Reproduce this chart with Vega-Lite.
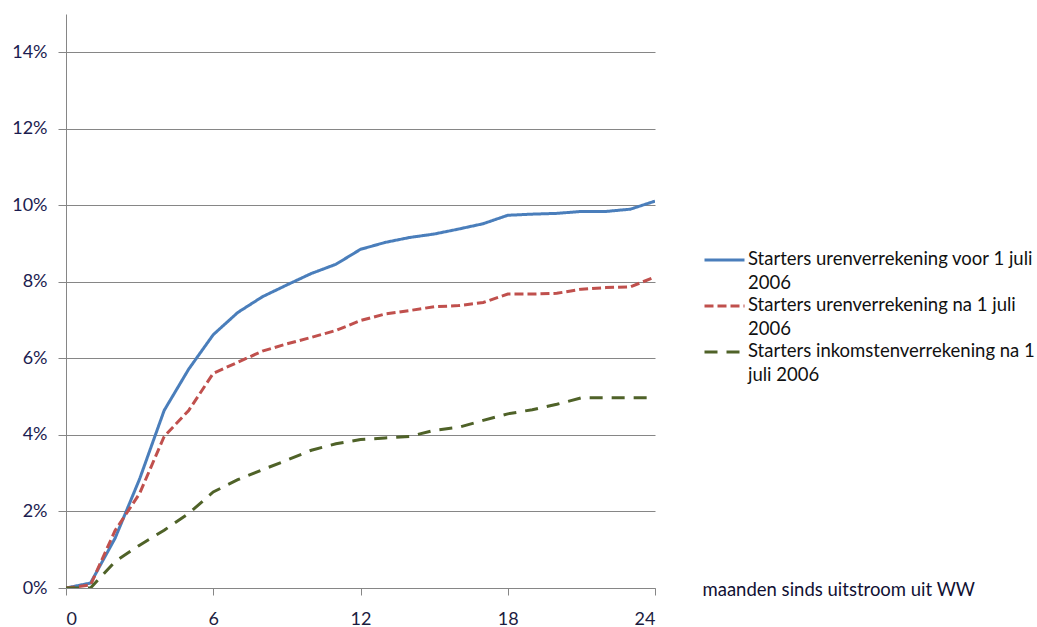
{
  "$schema": "https://vega.github.io/schema/vega-lite/v6.json",
  "width": 589,
  "height": 574,
  "autosize": "none",
  "padding": {"left": 66, "top": 14, "right": 382, "bottom": 39},
  "background": "white",
  "config": {
    "view": {"stroke": null},
    "font": "Lato"
  },
  "data": {
    "values": [
      {"month": 0, "s": "A", "v": 0.0},
      {"month": 1, "s": "A", "v": 0.13},
      {"month": 2, "s": "A", "v": 1.3},
      {"month": 3, "s": "A", "v": 2.85},
      {"month": 4, "s": "A", "v": 4.64},
      {"month": 5, "s": "A", "v": 5.72},
      {"month": 6, "s": "A", "v": 6.62},
      {"month": 7, "s": "A", "v": 7.2},
      {"month": 8, "s": "A", "v": 7.61},
      {"month": 9, "s": "A", "v": 7.92},
      {"month": 10, "s": "A", "v": 8.22},
      {"month": 11, "s": "A", "v": 8.46},
      {"month": 12, "s": "A", "v": 8.85},
      {"month": 13, "s": "A", "v": 9.03},
      {"month": 14, "s": "A", "v": 9.16},
      {"month": 15, "s": "A", "v": 9.25},
      {"month": 16, "s": "A", "v": 9.38},
      {"month": 17, "s": "A", "v": 9.52},
      {"month": 18, "s": "A", "v": 9.74},
      {"month": 19, "s": "A", "v": 9.77},
      {"month": 20, "s": "A", "v": 9.79},
      {"month": 21, "s": "A", "v": 9.84},
      {"month": 22, "s": "A", "v": 9.84},
      {"month": 23, "s": "A", "v": 9.9},
      {"month": 24, "s": "A", "v": 10.11},
      {"month": 0, "s": "B", "v": 0.0},
      {"month": 1, "s": "B", "v": 0.08},
      {"month": 2, "s": "B", "v": 1.5},
      {"month": 3, "s": "B", "v": 2.47},
      {"month": 4, "s": "B", "v": 3.96},
      {"month": 5, "s": "B", "v": 4.64},
      {"month": 6, "s": "B", "v": 5.61},
      {"month": 7, "s": "B", "v": 5.9},
      {"month": 8, "s": "B", "v": 6.19},
      {"month": 9, "s": "B", "v": 6.38},
      {"month": 10, "s": "B", "v": 6.55},
      {"month": 11, "s": "B", "v": 6.73},
      {"month": 12, "s": "B", "v": 6.99},
      {"month": 13, "s": "B", "v": 7.16},
      {"month": 14, "s": "B", "v": 7.25},
      {"month": 15, "s": "B", "v": 7.35},
      {"month": 16, "s": "B", "v": 7.38},
      {"month": 17, "s": "B", "v": 7.46},
      {"month": 18, "s": "B", "v": 7.68},
      {"month": 19, "s": "B", "v": 7.68},
      {"month": 20, "s": "B", "v": 7.7},
      {"month": 21, "s": "B", "v": 7.81},
      {"month": 22, "s": "B", "v": 7.85},
      {"month": 23, "s": "B", "v": 7.87},
      {"month": 24, "s": "B", "v": 8.13},
      {"month": 0, "s": "C", "v": 0.0},
      {"month": 1, "s": "C", "v": 0.0},
      {"month": 2, "s": "C", "v": 0.69},
      {"month": 3, "s": "C", "v": 1.12},
      {"month": 4, "s": "C", "v": 1.51},
      {"month": 5, "s": "C", "v": 1.95},
      {"month": 6, "s": "C", "v": 2.51},
      {"month": 7, "s": "C", "v": 2.83},
      {"month": 8, "s": "C", "v": 3.09},
      {"month": 9, "s": "C", "v": 3.34},
      {"month": 10, "s": "C", "v": 3.6},
      {"month": 11, "s": "C", "v": 3.77},
      {"month": 12, "s": "C", "v": 3.88},
      {"month": 13, "s": "C", "v": 3.92},
      {"month": 14, "s": "C", "v": 3.96},
      {"month": 15, "s": "C", "v": 4.12},
      {"month": 16, "s": "C", "v": 4.2},
      {"month": 17, "s": "C", "v": 4.38},
      {"month": 18, "s": "C", "v": 4.55},
      {"month": 19, "s": "C", "v": 4.66},
      {"month": 20, "s": "C", "v": 4.8},
      {"month": 21, "s": "C", "v": 4.97},
      {"month": 22, "s": "C", "v": 4.97},
      {"month": 23, "s": "C", "v": 4.97},
      {"month": 24, "s": "C", "v": 4.97}
    ]
  },
  "transform": [
    {"calculate": "datum.v / 100", "as": "pct"},
    {"calculate": "datum.s == 'A' ? 'Starters urenverrekening voor 1 juli 2006' : datum.s == 'B' ? 'Starters urenverrekening na 1 juli 2006' : 'Starters inkomstenverrekening na 1 juli 2006'", "as": "series"}
  ],
  "mark": {"type": "line", "strokeWidth": 3, "clip": true},
  "encoding": {
    "x": {
      "field": "month",
      "type": "quantitative",
      "scale": {"domain": [0, 24], "nice": false, "zero": true},
      "axis": {
        "values": [0, 6, 12, 18, 24],
        "grid": false,
        "domainColor": "#868686",
        "tickColor": "#868686",
        "tickSize": 7,
        "labelFontSize": 18,
        "labelColor": "#1c1c40",
        "labelPadding": 15,
        "labelFont": "Lato",
        "title": "maanden sinds uitstroom uit WW",
        "titleFont": "Lato",
        "titleFontSize": 18.5,
        "titleFontWeight": "normal",
        "titleColor": "#111133",
        "titleAlign": "left",
        "titleBaseline": "middle",
        "titleX": 636,
        "titleY": 1
      }
    },
    "y": {
      "field": "pct",
      "type": "quantitative",
      "scale": {"domain": [0, 0.15], "nice": false},
      "axis": {
        "values": [0, 0.02, 0.04, 0.06, 0.08, 0.1, 0.12, 0.14],
        "format": ".0%",
        "gridColor": "#868686",
        "gridWidth": 1,
        "domainColor": "#868686",
        "tickColor": "#868686",
        "tickSize": 8,
        "labelFontSize": 18,
        "labelColor": "#1c1c50",
        "labelPadding": 11,
        "labelFont": "Lato",
        "title": null
      }
    },
    "color": {
      "field": "series",
      "type": "nominal",
      "scale": {
        "domain": ["Starters urenverrekening voor 1 juli 2006", "Starters urenverrekening na 1 juli 2006", "Starters inkomstenverrekening na 1 juli 2006"],
        "range": ["#4a7ebb", "#c0504d", "#4f6228"]
      },
      "legend": {
        "title": null,
        "orient": "none",
        "legendX": 637,
        "legendY": 236,
        "symbolType": "stroke",
        "symbolSize": 1600,
        "symbolStrokeWidth": 3,
        "labelFont": "Lato",
        "labelFontSize": 18.5,
        "labelColor": "#111111",
        "labelOffset": 2,
        "labelLimit": 400,
        "labelBaseline": "top",
        "rowPadding": 3,
        "labelExpr": "datum.label == 'Starters urenverrekening voor 1 juli 2006' ? ['Starters urenverrekening voor 1 juli', '2006'] : datum.label == 'Starters urenverrekening na 1 juli 2006' ? ['Starters urenverrekening na 1 juli', '2006'] : ['Starters inkomstenverrekening na 1', 'juli 2006']",
        "encode": {
          "labels": {"update": {"lineHeight": {"value": 24}, "y": {"value": 0}}},
          "symbols": {"update": {"y": {"value": 10}}}
        }
      }
    },
    "strokeDash": {
      "field": "series",
      "type": "nominal",
      "scale": {
        "domain": ["Starters urenverrekening voor 1 juli 2006", "Starters urenverrekening na 1 juli 2006", "Starters inkomstenverrekening na 1 juli 2006"],
        "range": [[1, 0], [9, 4], [13, 9]]
      },
      "legend": null
    }
  }
}
